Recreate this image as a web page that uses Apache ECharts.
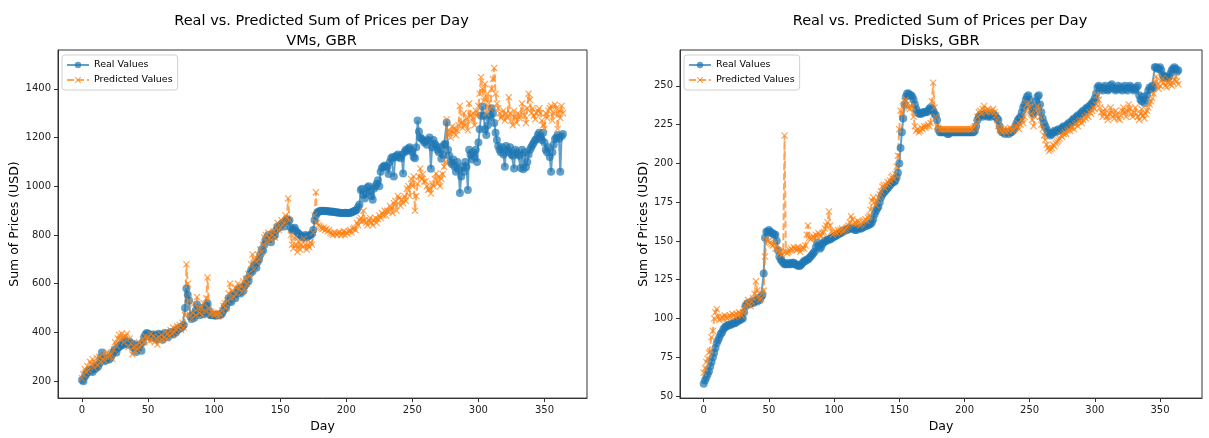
<!DOCTYPE html>
<html>
<head>
<meta charset="utf-8">
<script src="https://cdn.jsdelivr.net/npm/echarts@6/dist/echarts.min.js"></script>
<style>
  html, body { margin: 0; padding: 0; background: #ffffff; }
  #chart { width: 1209px; height: 438px; }
</style>
</head>
<body>
<div id="chart"></div>
<script>
// Daily summed prices (USD), one value per day starting at day 0
const vmReal = [
  205, 200, 218, 226, 235, 240, 248, 244, 238, 252,
  250, 262, 258, 270, 295, 318, 290, 282, 288, 295,
  288, 292, 300, 310, 322, 330, 318, 335, 340, 345,
  352, 348, 365, 355, 358, 350, 362, 355, 340, 352,
  335, 320, 345, 338, 350, 325, 360, 380, 392, 398,
  395, 385, 390, 378, 392, 388, 372, 385, 395, 390,
  380, 370, 392, 398, 388, 380, 395, 402, 398, 392,
  405, 400, 410, 412, 420, 418, 425, 430, 500, 580,
  555, 530, 465, 455, 470, 460, 490, 515, 480, 470,
  485, 500, 475, 480, 510, 520, 490, 472, 470, 472,
  470, 468, 472, 470, 470, 475, 478, 490, 505, 500,
  520, 540, 530, 525, 555, 548, 540, 560, 575, 565,
  560, 585, 570, 590, 600, 620, 610, 640, 655, 650,
  670, 680, 665, 690, 700, 720, 740, 735, 760, 780,
  790, 800, 785, 770, 805, 795, 800, 820, 835, 830,
  840, 845, 850, 835, 860, 865, 855, 860, 830, 820,
  825, 830, 815, 810, 805, 800, 795, 790, 795, 800,
  790, 795, 798, 800, 805, 820, 860, 880, 890, 895,
  898, 900, 898, 900, 898, 897, 898, 896, 895, 896,
  895, 894, 893, 892, 892, 891, 890, 890, 890, 891,
  890, 889, 890, 891, 892, 895, 898, 900, 905, 915,
  925, 985, 990, 965, 950, 970, 995, 1000, 980, 960,
  945, 990, 1000, 1010, 1025, 1000, 1060, 1075, 1080, 1085,
  1082, 1078, 1050, 1100, 1115, 1120, 1040, 1118, 1125, 1130,
  1120, 1115, 1128, 1052, 1140, 1150, 1145, 1155, 1160, 1150,
  1140, 1120, 1115, 1160, 1270, 1225, 1200, 1195, 1190, 1180,
  1185, 1170, 1190, 1200, 1072, 1160, 1190, 1175, 1165, 1150,
  1140, 1160, 1113, 1130, 1170, 1175, 1262, 1150, 1125, 1100,
  1090, 1110, 1080, 1060, 1100, 1070, 972, 1040, 1080, 1060,
  1100, 1080, 985, 1150, 1130, 1110, 1140, 1120, 1150, 1100,
  1180, 1234, 1290, 1327, 1290, 1234, 1210, 1250, 1280, 1290,
  1320, 1300, 1260, 1220, 1190, 1165, 1150, 1140, 1160, 1130,
  1080, 1165, 1150, 1140, 1160, 1130, 1125, 1073, 1150, 1140,
  1130, 1125, 1075, 1150, 1070, 1140, 1078, 1100, 1130, 1150,
  1160, 1170, 1180, 1190, 1194, 1210, 1220, 1200, 1190, 1220,
  1180, 1150, 1140, 1160, 1120, 1060, 1140, 1170, 1194, 1200,
  1210, 1195, 1060, 1205, 1215
];

const vmPred = [
  212, 228, 250, 238, 262, 245, 280, 270, 290, 255,
  275, 295, 265, 300, 280, 310, 290, 285, 300, 320,
  298, 305, 312, 290, 330, 360, 345, 375, 390, 370,
  395, 380, 360, 385, 395, 340, 375, 355, 310, 340,
  325, 345, 330, 360, 340, 350, 370, 360, 385, 375,
  380, 365, 395, 370, 385, 360, 375, 350, 380, 365,
  390, 370, 380, 400, 375, 395, 385, 410, 395, 420,
  400, 415, 425, 420, 430, 410, 440, 420, 470, 680,
  600, 530, 470, 455, 480, 520, 470, 545, 500, 480,
  500, 470, 520, 490, 540, 625, 500, 475, 485, 480,
  470, 480, 475, 465, 480, 470, 490, 510, 520, 500,
  530, 560, 600, 540, 570, 545, 585, 560, 600, 580,
  590, 565, 610, 580, 620, 600, 640, 630, 680, 720,
  660, 700, 690, 720, 700, 740, 730, 760, 790, 800,
  770, 810, 790, 780, 800, 815, 790, 830, 850, 820,
  830, 860, 840, 850, 880, 870, 950, 860, 800, 760,
  745, 790, 760, 730, 775, 740, 760, 750, 785, 760,
  740, 760, 750, 770, 760, 810, 880, 975, 850, 840,
  835, 830, 825, 830, 820, 825, 815, 820, 810, 805,
  800, 810, 805, 800, 808, 812, 800, 805, 815, 800,
  810, 805, 815, 820, 810, 825, 830, 820, 850, 840,
  860, 870, 855, 900, 860, 850, 840, 860, 870, 850,
  840, 860, 870, 850, 865, 880, 870, 890, 880, 900,
  880, 900, 895, 920, 910, 890, 930, 940, 900, 960,
  950, 920, 945, 930, 960, 940, 990, 1000, 960, 1030,
  1000, 1040, 900, 960, 1010, 1040, 1073, 1030, 1050, 1020,
  1020, 1000, 985, 990, 970, 1010, 1000, 1030, 1052, 1010,
  1040, 1000, 1030, 1050, 1080, 1100, 1275, 1210, 1230, 1200,
  1245, 1220, 1240, 1210, 1230, 1250, 1330, 1260, 1240, 1300,
  1250, 1280, 1230, 1340, 1290, 1270, 1300, 1250, 1310, 1290,
  1330, 1380, 1448, 1400, 1350, 1420, 1300, 1380, 1340, 1320,
  1400, 1440, 1485, 1380, 1340, 1320, 1300, 1280, 1290, 1310,
  1270, 1300, 1280, 1365, 1300, 1270, 1250, 1310, 1280, 1260,
  1300, 1280, 1290, 1340, 1310, 1290, 1260, 1320, 1380, 1355,
  1300, 1320, 1290, 1275, 1300, 1310, 1320, 1300, 1270, 1250,
  1235, 1300, 1280, 1310, 1320, 1330, 1270, 1300, 1335, 1320,
  1235, 1310, 1280, 1330, 1300
];

const diskReal = [
  58, 60, 62, 64, 66, 69, 72, 75, 78, 81,
  84, 86, 88, 90, 91, 93, 94, 95, 95, 96,
  96, 96, 97, 97, 97, 98, 98, 99, 99, 100,
  100, 104, 108, 109, 110, 109, 110, 111, 110, 111,
  112, 111, 113, 112, 114, 115, 129, 152, 156, 156,
  157, 156, 155, 155, 154, 154, 150, 144, 140, 138,
  137, 136, 135, 135, 135, 136, 135, 135, 136, 136,
  135, 135, 134, 134, 134, 135, 136, 137, 137, 138,
  138, 139, 140, 141, 142, 143, 146, 149, 147, 145,
  146, 148, 149, 150, 150, 151, 151, 151, 152, 152,
  153, 153, 154, 154, 155, 155, 156, 156, 157, 157,
  157, 158, 158, 158, 158, 158, 157, 157, 158, 158,
  158, 158, 159, 159, 160, 160, 160, 161, 161, 162,
  164, 167, 169, 171, 172, 175, 178, 180, 181, 182,
  183, 184, 185, 186, 187, 188, 188, 189, 191, 194,
  200, 210, 220, 229, 238, 243, 245, 245, 244, 244,
  243, 241, 238, 235, 233, 232, 232, 232, 233, 233,
  233, 233, 234, 235, 236, 235, 234, 232, 231, 228,
  222, 220, 220, 220, 220, 220, 220, 219, 219, 220,
  220, 220, 220, 220, 220, 220, 220, 220, 220, 220,
  220, 220, 220, 220, 220, 220, 220, 220, 221, 224,
  228, 230, 231, 231, 230, 231, 232, 231, 230, 231,
  230, 231, 232, 231, 230, 229, 228, 224, 221, 220,
  220, 219, 220, 220, 219, 220, 220, 221, 222, 224,
  226, 228, 229, 230, 233, 236, 238, 241, 243, 244,
  241, 237, 233, 232, 235, 240, 243, 244, 238, 233,
  229, 226, 224, 222, 220, 219, 218, 219, 220, 221,
  220, 221, 222, 221, 222, 223, 224, 223, 224, 225,
  226, 225, 227, 228, 229, 228, 230, 231, 230, 232,
  233, 234, 233, 235, 236, 235, 237, 238, 239, 240,
  242, 245, 249, 250, 249, 248, 247, 249, 250, 248,
  247, 248, 250, 251, 249, 248, 247, 248, 250, 249,
  248, 247, 249, 250, 248, 247, 249, 250, 249, 248,
  247, 248, 249, 250, 244, 241, 240, 243, 239, 241,
  244, 247, 249, 248, 250, 249, 262, 262, 261, 261,
  262, 260, 257, 256, 255, 256, 255, 256, 258, 260,
  261, 262, 261, 259, 260
];

const diskPred = [
  65, 68, 72, 74, 78, 79, 88, 92, 100, 104,
  106, 101, 99, 100, 101, 100, 102, 101, 100, 101,
  102, 101, 103, 102, 101, 103, 102, 104, 103, 102,
  104, 106, 108, 110, 112, 109, 108, 111, 113, 116,
  124, 118, 114, 112, 113, 116, 118, 140, 151, 150,
  150, 149, 148, 147, 148, 145, 147, 144, 142, 143,
  141, 143, 218, 143, 142, 143, 144, 145, 144, 146,
  145, 144, 146, 145, 143, 145, 146, 145, 147, 154,
  160, 152, 151, 152, 153, 152, 154, 153, 155, 154,
  153, 155, 156, 158, 160, 162, 169, 160, 156, 154,
  155, 156, 155, 157, 156, 157, 158, 156, 157, 158,
  159, 160, 162, 166, 164, 161, 162, 161, 163, 162,
  160, 161, 162, 163, 164, 163, 165, 166, 170, 176,
  178, 175, 173, 176, 178, 180, 182, 185, 186, 184,
  186, 188, 187, 189, 191, 192, 190, 193, 198, 205,
  222, 234, 232, 237, 240, 241, 238, 236, 235, 237,
  236, 230, 224, 221, 222, 220, 221, 223, 222, 224,
  223, 224, 225, 224, 226, 240, 252, 236, 230, 224,
  223, 222, 222, 222, 222, 222, 222, 222, 222, 222,
  222, 222, 222, 222, 222, 222, 222, 222, 222, 222,
  222, 222, 222, 222, 222, 222, 222, 223, 224, 226,
  230, 233, 234, 232, 235, 237, 234, 233, 235, 234,
  233, 234, 235, 233, 231, 228, 224, 222, 221, 220,
  222, 221, 220, 222, 221, 223, 222, 221, 222, 223,
  224, 226, 222, 225, 228, 226, 230, 234, 238, 239,
  236, 232, 228, 224, 230, 234, 237, 235, 230, 225,
  222, 218, 215, 212, 210, 208, 209, 210, 212, 211,
  213, 214, 215, 216, 218, 217, 219, 220, 219, 221,
  222, 221, 223, 224, 222, 225, 226, 224, 227, 228,
  226, 228, 230, 229, 231, 230, 233, 232, 234, 236,
  235, 238, 244, 241, 236, 233, 230, 232, 235, 230,
  228, 232, 236, 233, 230, 229, 234, 232, 229, 228,
  231, 234, 236, 233, 230, 234, 238, 235, 232, 230,
  233, 236, 232, 230, 228, 232, 235, 231, 229, 232,
  234, 236, 238, 240, 242, 245, 252, 256, 251, 248,
  250, 253, 255, 252, 250, 249, 252, 254, 251, 250,
  252, 254, 256, 253, 251
];

// Tick labels
const dayTicks = [0, 50, 100, 150, 200, 250, 300, 350];
const vmTicks = [200, 400, 600, 800, 1000, 1200, 1400];
const diskTicks = [50, 75, 100, 125, 150, 175, 200, 225, 250];

const titleMain = 'Real vs. Predicted Sum of Prices per Day';
const panelNames = ['VMs, GBR', 'Disks, GBR'];
const seriesNames = ['Real Values', 'Predicted Values'];

const BLUE = '#1f77b4';
const ORANGE = '#ff7f0e';
const FONT = 'DejaVu Sans';
const CROSS = 'path://M0,1.2L1.2,0L5,3.8L8.8,0L10,1.2L6.2,5L10,8.8L8.8,10L5,6.2L1.2,10L0,8.8L3.8,5Z';
const TITLE_PAD = 5;

const toPairs = arr => arr.map((v, i) => [i, v]);

const panels = [
  { left: 58, width: 529, min: 130.4, max: 1559.4, ticks: vmTicks, nameGap: 37, real: vmReal, pred: vmPred },
  { left: 680, width: 522, min: 48.7, max: 273.1, ticks: diskTicks, nameGap: 29, real: diskReal, pred: diskPred }
];

const GRID_TOP = 50;
const GRID_H = 358;

const option = {
  animation: false,
  backgroundColor: '#ffffff',
  textStyle: { fontFamily: FONT },
  // each two-line title is centred over its own plot area
  title: panels.map((p, k) => ({
    text: titleMain + '\n' + panelNames[k],
    left: p.left + p.width / 2 - TITLE_PAD - 1,
    top: 6,
    padding: TITLE_PAD,
    textAlign: 'center',
    textStyle: { fontFamily: FONT, fontSize: 14.5, fontWeight: 'normal', color: '#000', lineHeight: 20 }
  })),
  legend: panels.map((p, k) => ({
    data: seriesNames,
    orient: 'vertical',
    left: p.left + 4,
    top: 55,
    itemWidth: 22,
    itemHeight: 8,
    itemGap: 5,
    padding: [5, 5, 5, 4],
    borderColor: '#d0d0d0',
    borderWidth: 1,
    borderRadius: 3,
    backgroundColor: 'rgba(255,255,255,0.8)',
    textStyle: { fontFamily: FONT, fontSize: 9.5, color: '#000' },
    selectedMode: false
  })),
  grid: panels.map(p => ({
    left: p.left, top: GRID_TOP, width: p.width, height: GRID_H,
    show: true, borderColor: '#333', borderWidth: 1, backgroundColor: '#fff',
    containLabel: false
  })),
  xAxis: panels.map((p, k) => ({
    type: 'value',
    gridIndex: k,
    min: -18.2,
    max: 382.2,
    name: 'Day',
    nameLocation: 'middle',
    nameGap: 20,
    nameTextStyle: { fontFamily: FONT, fontSize: 12.5, color: '#000' },
    axisLine: { show: true, onZero: false, lineStyle: { color: '#333', width: 1 } },
    axisTick: { show: true, inside: false, length: 4, customValues: dayTicks, lineStyle: { color: '#333' } },
    axisLabel: { customValues: dayTicks, fontFamily: FONT, fontSize: 10, color: '#222', margin: 7 },
    splitLine: { show: false }
  })),
  yAxis: panels.map((p, k) => ({
    type: 'value',
    gridIndex: k,
    min: p.min,
    max: p.max,
    name: 'Sum of Prices (USD)',
    nameLocation: 'middle',
    nameGap: p.nameGap,
    nameRotate: 90,
    nameTextStyle: { fontFamily: FONT, fontSize: 12.5, color: '#000' },
    axisLine: { show: true, onZero: false, lineStyle: { color: '#333', width: 1 } },
    axisTick: { show: true, inside: false, length: 4, customValues: p.ticks, lineStyle: { color: '#333' } },
    axisLabel: {
      customValues: p.ticks,
      formatter: v => String(v),
      fontFamily: FONT, fontSize: 10, color: '#222', margin: 7
    },
    splitLine: { show: false }
  })),
  series: []
};

panels.forEach((p, k) => {
  option.series.push({
    name: seriesNames[0],
    type: 'line',
    xAxisIndex: k,
    yAxisIndex: k,
    data: toPairs(p.real),
    symbol: 'circle',
    symbolSize: 8,
    showAllSymbol: true,
    lineStyle: { color: BLUE, width: 2, opacity: 0.7 },
    itemStyle: { color: BLUE, opacity: 0.7 },
    emphasis: { disabled: true }
  });
  option.series.push({
    name: seriesNames[1],
    type: 'line',
    xAxisIndex: k,
    yAxisIndex: k,
    data: toPairs(p.pred),
    symbol: CROSS,
    symbolSize: 7,
    showAllSymbol: true,
    lineStyle: { color: ORANGE, width: 2, type: [7, 3], opacity: 0.7 },
    itemStyle: { color: ORANGE, opacity: 0.7 },
    emphasis: { disabled: true }
  });
});

const chart = echarts.init(document.getElementById('chart'), null, { renderer: 'canvas' });
chart.setOption(option);
</script>
</body>
</html>
